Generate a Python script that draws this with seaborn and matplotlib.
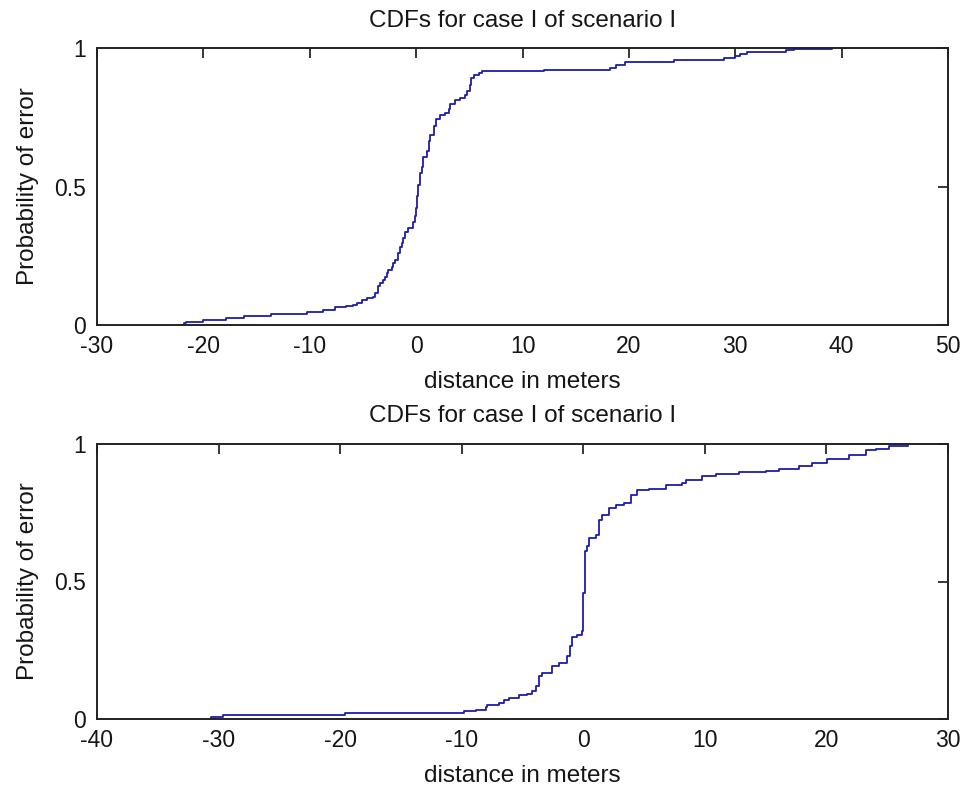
import matplotlib
matplotlib.use("Agg")
import matplotlib.pyplot as plt
import seaborn as sns
import pandas as pd

# ---- data ----
top_x = [-21.98, -21.8, -21.6, -20.0, -17.9, -16.2, -13.6, -10.3, -8.76, -7.65, -6.55, -5.92,
         -5.6, -5.13, -4.66, -4.03, -3.87, -3.56, -3.40, -3.09, -2.93, -2.77, -2.61, -2.30,
         -2.14, -1.98, -1.67, -1.51, -1.35, -1.20, -1.04, -0.72, -0.25, -0.09, 0.0, 0.06,
         0.16, 0.38, 0.54, 0.69, 1.01, 1.17, 1.32, 1.64, 1.89, 2.20, 2.74, 3.06, 3.21, 3.69,
         4.16, 4.63, 4.79, 5.10, 5.20, 5.42, 5.89, 6.20, 12.0, 18.2, 18.8, 19.6,
         24.2, 28.9, 30.0, 30.4, 31.1, 34.8, 35.5, 39.1]
top_y = [0.0, 0.006, 0.012, 0.018, 0.024, 0.034, 0.040, 0.048, 0.054, 0.064, 0.069, 0.072,
         0.078, 0.090, 0.096, 0.102, 0.114, 0.139, 0.151, 0.163, 0.175, 0.187, 0.199, 0.208,
         0.223, 0.235, 0.259, 0.283, 0.295, 0.313, 0.337, 0.349, 0.373, 0.392, 0.422, 0.464,
         0.506, 0.548, 0.572, 0.608, 0.627, 0.663, 0.687, 0.717, 0.743, 0.759, 0.767, 0.780, 0.799, 0.811,
         0.819, 0.831, 0.843, 0.867, 0.892, 0.904, 0.910, 0.916, 0.922, 0.928, 0.94, 0.95,
         0.955, 0.964, 0.972, 0.98, 0.985, 0.992, 0.997, 1.0]

bot_x = [-30.8, -30.6, -29.6, -19.6, -9.8, -8.8, -8.0, -7.9, -6.94, -6.53, -6.12, -5.29, -4.61,
         -4.20, -3.92, -3.65, -3.37, -2.55, -2.0, -1.32, -1.12, -0.91, -0.49, -0.08, 0.0, 0.14,
         0.33, 0.47, 1.02, 1.29, 1.56, 2.11, 2.66, 3.35, 3.90, 4.44, 5.40, 6.78, 8.15, 8.42,
         9.79, 10.89, 12.81, 15.0, 16.1, 17.75, 18.85, 20.08, 21.87, 23.24, 24.06, 25.16, 26.67]
bot_y = [0.0, 0.006, 0.016, 0.022, 0.028, 0.034, 0.042, 0.050, 0.058, 0.068, 0.076, 0.086, 0.092,
         0.101, 0.119, 0.155, 0.167, 0.192, 0.204, 0.230, 0.264, 0.297, 0.307, 0.321, 0.458, 0.610,
         0.628, 0.658, 0.670, 0.725, 0.743, 0.767, 0.779, 0.785, 0.816, 0.832, 0.838, 0.852, 0.858, 0.870,
         0.882, 0.891, 0.898, 0.902, 0.909, 0.921, 0.931, 0.945, 0.961, 0.977, 0.983, 0.992, 1.0]

top_xticks = [-30, -20, -10, 0, 10, 20, 30, 40, 50]
bot_xticks = [-40, -30, -20, -10, 0, 10, 20, 30]
yticks = [0, 0.5, 1]
ytick_labels = ["0", "0.5", "1"]

title = "CDFs for case I of scenario I"
xlabel = "distance in meters"
ylabel = "Probability of error"

# ---- style ----
sns.set_theme(style="white")
plt.rcParams["font.family"] = ["Liberation Sans", "DejaVu Sans"]
FS = 17.5
TFS = 16.5
line_color = "#1c1caa"
ink = "#151515"

fig = plt.figure(figsize=(9.64, 7.89), dpi=100)
fig.patch.set_facecolor("white")
ax1 = fig.add_axes([97 / 964, 1 - 325 / 789, 851 / 964, 277 / 789])
ax2 = fig.add_axes([97 / 964, 1 - 719 / 789, 851 / 964, 275 / 789])

panels = [
    (ax1, top_x, top_y, top_xticks, -0.165, 15),
    (ax2, bot_x, bot_y, bot_xticks, -0.167, 16),
]

for ax, xs, ys, xt, lab_y, tpad in panels:
    df = pd.DataFrame({"x": xs, "y": ys})
    sns.lineplot(data=df, x="x", y="y", ax=ax, color=line_color, linewidth=1.3,
                 drawstyle="steps-post", estimator=None, sort=False)
    ax.set_xlim(xt[0], xt[-1])
    ax.set_ylim(0, 1)
    ax.set_xticks(xt)
    ax.set_xticklabels([str(v) for v in xt])
    ax.set_yticks(yticks)
    ax.set_yticklabels(ytick_labels)
    ax.tick_params(axis="both", direction="in", length=7, width=1.2, color=ink,
                   labelsize=TFS, top=True, right=True, labelcolor=ink)
    ax.tick_params(axis="x", pad=7)
    ax.tick_params(axis="y", pad=8)
    for s in ax.spines.values():
        s.set_visible(True)
        s.set_color("#222222")
        s.set_linewidth(1.4)
    ax.set_facecolor("white")
    ax.set_title(title, fontsize=FS, pad=tpad, color=ink)
    ax.set_xlabel(xlabel, fontsize=FS, color=ink)
    ax.set_ylabel(ylabel, fontsize=FS, color=ink)
    ax.xaxis.set_label_coords(0.5, lab_y)
    ax.yaxis.set_label_coords(-0.068, 0.5)
    ax.grid(False)

fig.savefig("out.png", dpi=100, facecolor="white")
